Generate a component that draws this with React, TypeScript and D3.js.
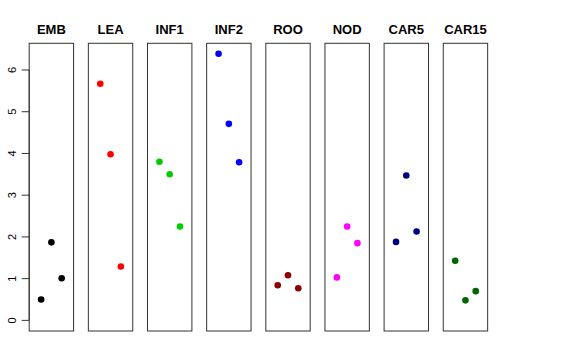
import React from "react";
import * as d3 from "d3";

const panels = ["EMB", "LEA", "INF1", "INF2", "ROO", "NOD", "CAR5", "CAR15"];
const colors = ["#000000", "#FF0000", "#00CD00", "#0000FF", "#8B0000", "#FF00FF", "#000080", "#006400"];
const values: number[][] = [
  [0.5, 1.87, 1.01],
  [5.67, 3.98, 1.29],
  [3.8, 3.5, 2.25],
  [6.39, 4.71, 3.79],
  [0.84, 1.08, 0.77],
  [1.03, 2.25, 1.85],
  [1.88, 3.47, 2.13],
  [1.43, 0.48, 0.7],
];
const yTicks = [0, 1, 2, 3, 4, 5, 6];

const W = 576, H = 360;
const panelLeft0 = 29.2;
const panelStep = 59.15;
const panelW = 44.4;
const top = 43.3, bottom = 331;

export default function App() {
  const y = d3.scaleLinear().domain([-0.255, 6.64]).range([bottom, top]);
  const x = d3.scaleLinear().domain([-0.16, 4.16]).range([0, panelW]);
  return (
    <svg width={W} height={H} style={{ position: "absolute", left: 0, top: 0, background: "#fff" }}
      fontFamily="Liberation Sans, Arial, sans-serif">
      {panels.map((p, i) => {
        const left = panelLeft0 + i * panelStep;
        return (
          <g key={p} transform={`translate(${left},0)`}>
            <rect x={0} y={top} width={panelW} height={bottom - top} fill="none" stroke="#333" strokeWidth={1} />
            <text x={panelW / 2} y={34} textAnchor="middle" fontWeight="bold" fontSize={13}>{p}</text>
            {values[i].map((v, j) => (
              <circle key={j} cx={x(j + 1)} cy={y(v)} r={3.3} fill={colors[i]} />
            ))}
          </g>
        );
      })}
      <g transform={`translate(${panelLeft0},0)`}>
        <line x1={0} x2={0} y1={y(0)} y2={y(6)} stroke="#333" />
        {yTicks.map((t) => (
          <g key={t} transform={`translate(0,${y(t)})`}>
            <line x1={-7.5} x2={0} stroke="#333" />
            <text transform="translate(-17,0) rotate(-90)" textAnchor="middle" dy="0.35em" fontSize={11}>{t}</text>
          </g>
        ))}
      </g>
    </svg>
  );
}
